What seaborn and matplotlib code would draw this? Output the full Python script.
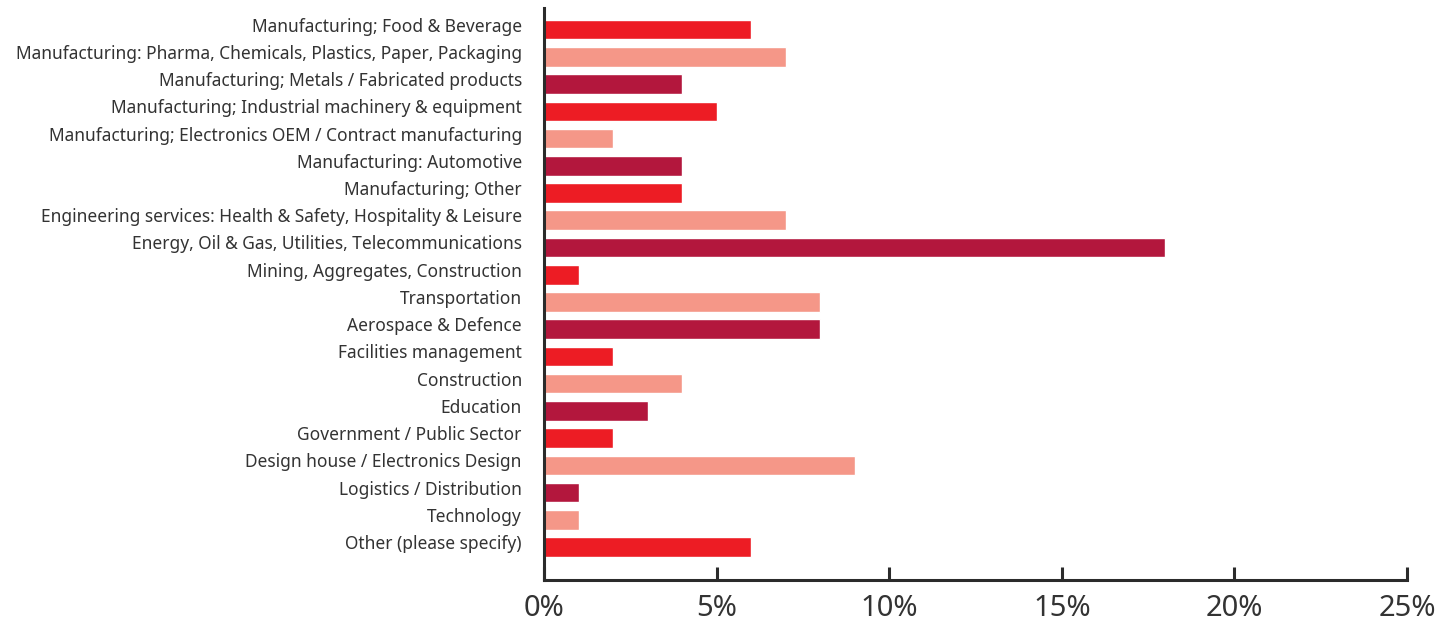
import matplotlib
matplotlib.use("Agg")
import matplotlib.pyplot as plt
import matplotlib.transforms as mtransforms
import seaborn as sns
import pandas as pd
from matplotlib.ticker import FuncFormatter

sectors = [
    "Manufacturing; Food & Beverage",
    "Manufacturing: Pharma, Chemicals, Plastics, Paper, Packaging",
    "Manufacturing; Metals / Fabricated products",
    "Manufacturing; Industrial machinery & equipment",
    "Manufacturing; Electronics OEM / Contract manufacturing",
    "Manufacturing: Automotive",
    "Manufacturing; Other",
    "Engineering services: Health & Safety, Hospitality & Leisure",
    "Energy, Oil & Gas, Utilities, Telecommunications",
    "Mining, Aggregates, Construction",
    "Transportation",
    "Aerospace & Defence",
    "Facilities management",
    "Construction",
    "Education",
    "Government / Public Sector",
    "Design house / Electronics Design",
    "Logistics / Distribution",
    "Technology",
    "Other (please specify)",
]
share_pct = [6, 7, 4, 5, 2, 4, 4, 7, 18, 1, 8, 8, 2, 4, 3, 2, 9, 1, 1, 6]

RED, SALMON, CRIMSON = "#ed1c24", "#f59788", "#b3173d"
bar_colors = [RED, SALMON, CRIMSON, RED, SALMON, CRIMSON, RED, SALMON, CRIMSON,
              RED, SALMON, CRIMSON, RED, SALMON, CRIMSON, RED, SALMON, CRIMSON,
              SALMON, RED]
x_ticks = [0, 5, 10, 15, 20, 25]

sns.set_style("white")
plt.rcParams["font.family"] = ["Noto Sans", "DejaVu Sans"]

df = pd.DataFrame({"sector": sectors, "share": share_pct})

fig = plt.figure(figsize=(14.42, 6.25), dpi=100)
ax = fig.add_axes([0.3773, 0.072, 0.5984, 0.915])

sns.barplot(data=df, x="share", y="sector", hue="sector",
            palette=dict(zip(sectors, bar_colors)), legend=False,
            width=0.72, saturation=1, ax=ax)

ax.set_xlim(0, 25)
ax.set_ylim(len(sectors) - 1 + 1.21, -0.79)
ax.set_xticks(x_ticks)
ax.xaxis.set_major_formatter(FuncFormatter(lambda v, p: f"{v:.0f}%"))
ax.set_xlabel("")
ax.set_ylabel("")

for side in ["top", "right"]:
    ax.spines[side].set_visible(False)
for side in ["left", "bottom"]:
    ax.spines[side].set_color("#2b2b2b")
    ax.spines[side].set_linewidth(2.2)

ax.tick_params(axis="x", bottom=True, direction="in", length=9.5, width=2.2,
               color="#2b2b2b", labelsize=21, labelcolor="#333333", pad=10)
ax.tick_params(axis="y", left=False, length=0, labelsize=12.5,
               labelcolor="#333333", pad=16)

# category labels sit slightly above their bar centres
lift = mtransforms.ScaledTranslation(0, 3.6 / 72, fig.dpi_scale_trans)
for lbl in ax.get_yticklabels():
    lbl.set_transform(lbl.get_transform() + lift)

fig.savefig("out.png", dpi=100)
